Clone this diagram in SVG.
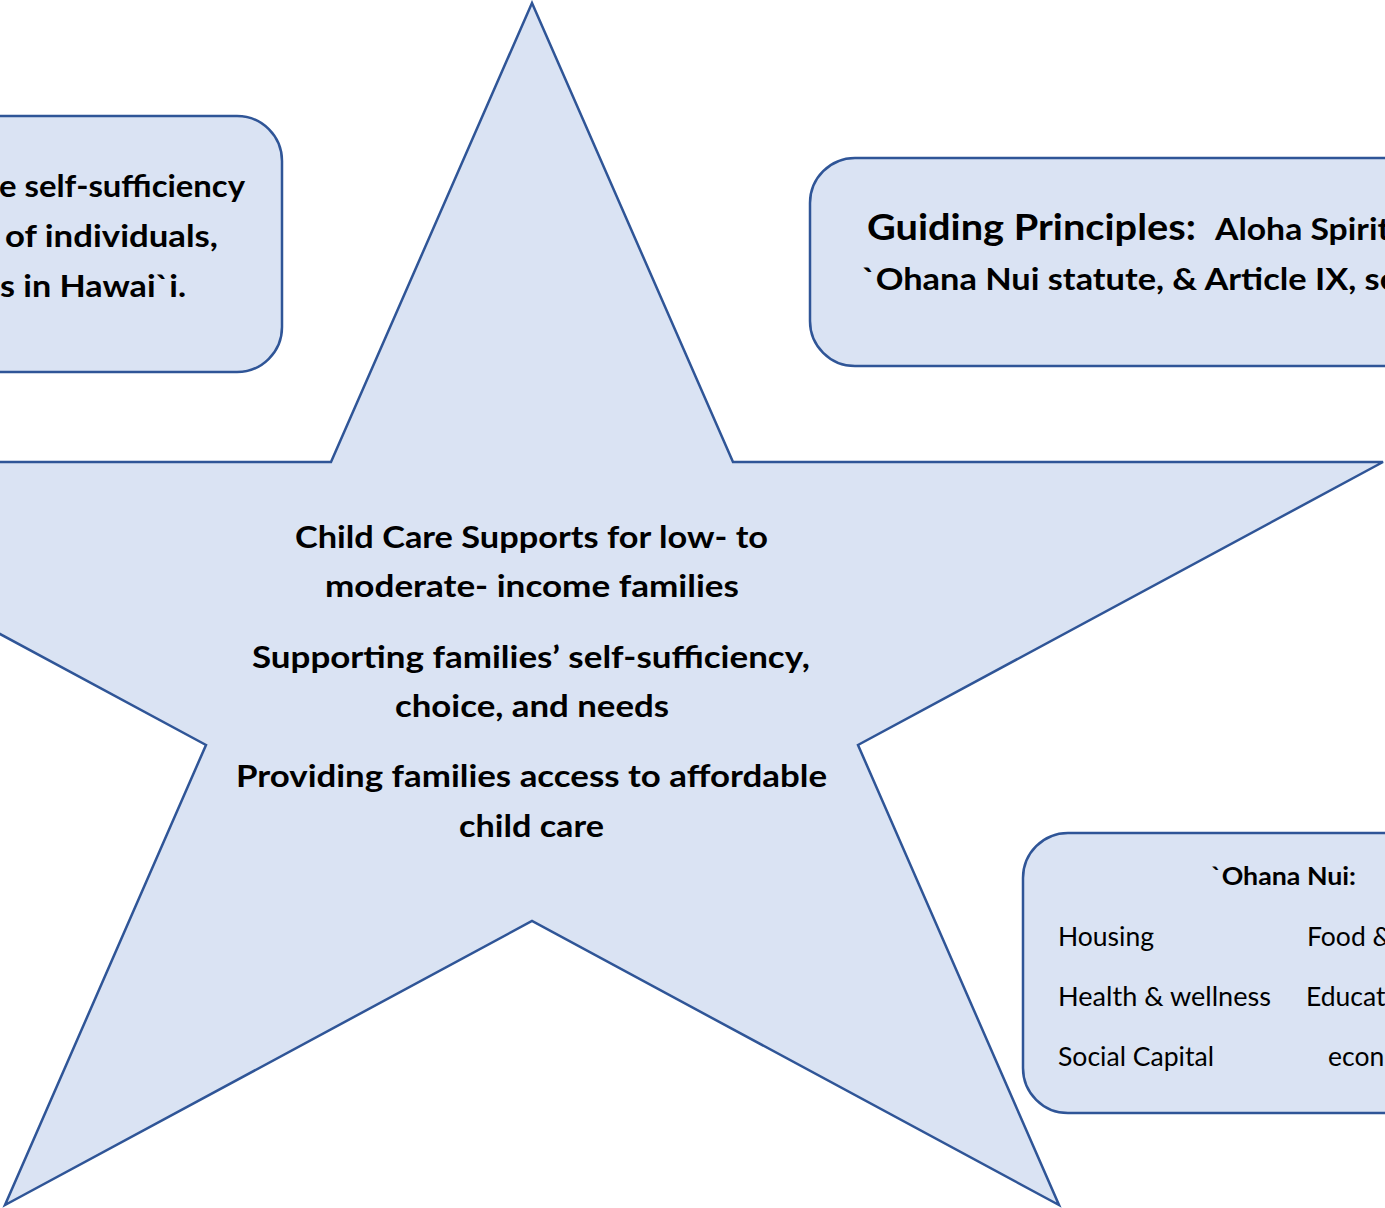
<svg xmlns="http://www.w3.org/2000/svg" width="1385" height="1208" viewBox="0 0 1385 1208">
<style>
.shape{fill:#DAE3F3;stroke:#2F5597;stroke-width:2.5}
.b{font-family:Lato,"Liberation Sans",sans-serif;font-weight:bold;fill:#000}
.r{font-family:Lato,"Liberation Sans",sans-serif;font-weight:normal;fill:#000}
</style>
<rect width="1385" height="1208" fill="#fff"/>
<g id="star">
<polygon class="shape" points="532,3 733,462 1383,462 858,745 1059,1205 532,921 5,1205 206,745 -319,462 331,462"/>
<g class="b" font-size="31">
<text x="295" y="548" textLength="473" lengthAdjust="spacingAndGlyphs">Child Care Supports for low- to</text>
<text x="325" y="597" textLength="414" lengthAdjust="spacingAndGlyphs">moderate- income families</text>
<text x="252" y="668" textLength="558" lengthAdjust="spacingAndGlyphs">Supporting families’ self-sufficiency,</text>
<text x="395" y="717" textLength="274" lengthAdjust="spacingAndGlyphs">choice, and needs</text>
<text x="236" y="787" textLength="591" lengthAdjust="spacingAndGlyphs">Providing families access to affordable</text>
<text x="459" y="837" textLength="145" lengthAdjust="spacingAndGlyphs">child care</text>
</g>
</g>
<g id="mission">
<rect class="shape" x="-200" y="116" width="482" height="256" rx="45"/>
<g class="b" font-size="31">
<text x="-1" y="197" textLength="246" lengthAdjust="spacingAndGlyphs">e self-sufficiency</text>
<text x="5" y="247" textLength="213" lengthAdjust="spacingAndGlyphs">of individuals,</text>
<text x="0" y="297" textLength="186" lengthAdjust="spacingAndGlyphs">s in Hawai`i.</text>
</g>
</g>
<g id="principles">
<rect class="shape" x="810" y="158" width="700" height="208" rx="45"/>
<text class="b" x="867" y="240" font-size="36" textLength="329" lengthAdjust="spacingAndGlyphs">Guiding Principles:</text>
<text class="b" x="1215" y="240" font-size="31" textLength="175" lengthAdjust="spacingAndGlyphs">Aloha Spirit</text>
<text class="b" x="862" y="290" font-size="31" textLength="536" lengthAdjust="spacingAndGlyphs">`Ohana Nui statute, &amp; Article IX, se</text>
</g>
<g id="ohana">
<rect class="shape" x="1023" y="833" width="500" height="280" rx="45"/>
<text class="b" x="1211" y="885" font-size="24" textLength="145" lengthAdjust="spacingAndGlyphs">`Ohana Nui:</text>
<g class="r" font-size="26.5">
<text x="1058" y="946" textLength="96" lengthAdjust="spacingAndGlyphs">Housing</text>
<text x="1307" y="946">Food &amp;</text>
<text x="1058" y="1006" textLength="213" lengthAdjust="spacingAndGlyphs">Health &amp; wellness</text>
<text x="1306" y="1006">Educat</text>
<text x="1058" y="1066" textLength="156" lengthAdjust="spacingAndGlyphs">Social Capital</text>
<text x="1328" y="1066">econ</text>
</g>
</g>
<g id="connectors"></g>
</svg>
